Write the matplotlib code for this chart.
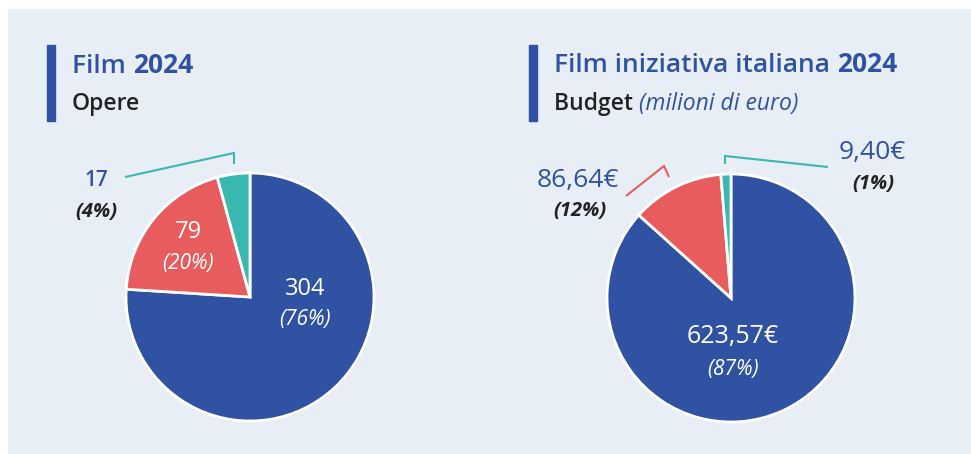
import matplotlib.pyplot as plt
from matplotlib.patches import Rectangle

W, H = 971, 454

# dati
opere = [304, 79, 17]
budget = [623.57, 86.64, 9.40]
colori = ['#2f53a2', '#e85c5e', '#38b8af']

titolo_sx = ('Film ', '2024')
sotto_sx = ('Opere', '')
titolo_dx = ('Film iniziativa italiana ', '2024')
sotto_dx = ('Budget ', '(milioni di euro)')

BLU = '#2f53a2'
NERO = '#222222'
SFONDO = '#e8eef6'

plt.rcParams['font.family'] = ['Open Sans', 'DejaVu Sans']


def py(y):
    # da pixel (dall'alto) a coordinate dati (dal basso)
    return H - y


def perc(vals):
    tot = sum(vals)
    return [round(v / tot * 100) for v in vals]


def euro(v):
    return f"{v:.2f}".replace('.', ',') + '€'


def testo_doppio(ax, x, y, a, b, col_a, col_b, size, weight_a, weight_b, style_b='normal'):
    t = ax.text(x, py(y), a, color=col_a, fontsize=size, fontweight=weight_a,
                va='baseline', ha='left')
    if b:
        fig = ax.figure
        fig.canvas.draw()
        bb = t.get_window_extent()
        x2 = ax.transData.inverted().transform((bb.x1, 0))[0]
        ax.text(x2, py(y), b, color=col_b, fontsize=size, fontweight=weight_b,
                fontstyle=style_b, va='baseline', ha='left')


def etichetta(ax, x, y, val, pct, dentro, size=16, gap=31, xp=None):
    xp = x if xp is None else xp
    if dentro:
        ax.text(x, py(y), val, color='white', fontsize=size, ha='center', va='center')
        ax.text(xp, py(y + gap), f'({pct}%)', color='white', fontsize=15,
                fontstyle='italic', ha='center', va='center')
    else:
        ax.text(x, py(y), val, color=BLU, fontsize=size, ha='center', va='center',
                fontweight='semibold' if size < 16 else 'normal')
        ax.text(xp, py(y + gap), f'({pct}%)', color=NERO, fontsize=14.5,
                fontstyle='italic', fontweight='bold', ha='center', va='center')


def linea(ax, pts, col):
    ax.plot([p[0] for p in pts], [py(p[1]) for p in pts], color=col, lw=1.5,
            solid_joinstyle='miter', solid_capstyle='butt')


fig = plt.figure(figsize=(W / 100, H / 100), dpi=100)
ax = fig.add_axes([0, 0, 1, 1])
ax.set_xlim(0, W)
ax.set_ylim(0, H)
ax.set_aspect('equal')
ax.axis('off')

ax.add_patch(Rectangle((8, 0), W - 8, H - 9, color=SFONDO, zorder=0))

# barre dei titoli
ax.add_patch(Rectangle((47, py(121)), 8, 76, color=BLU))
ax.add_patch(Rectangle((529, py(121)), 8, 76, color=BLU))

testo_doppio(ax, 72, 73, titolo_sx[0], titolo_sx[1], BLU, BLU, 19, 'semibold', 'bold')
testo_doppio(ax, 72, 110, sotto_sx[0], sotto_sx[1], NERO, BLU, 16.5, 'semibold', 'normal')
testo_doppio(ax, 554, 72, titolo_dx[0], titolo_dx[1], BLU, BLU, 19, 'semibold', 'bold')
testo_doppio(ax, 554, 110, sotto_dx[0], sotto_dx[1], NERO, BLU, 16.5, 'semibold', 'normal', 'italic')

wp = dict(edgecolor='white', linewidth=2)
ax.pie(opere, colors=colori, startangle=90, counterclock=False,
       center=(250, py(297)), radius=124, wedgeprops=wp, frame=True)
ax.pie(budget, colors=colori, startangle=90, counterclock=False,
       center=(731, py(298)), radius=124, wedgeprops=wp, frame=True)
ax.set_xlim(0, W)
ax.set_ylim(0, H)
ax.axis('off')

p1 = perc(opere)
etichetta(ax, 305, 289, str(opere[0]), p1[0], True, size=17)
etichetta(ax, 188, 232, str(opere[1]), p1[1], True, size=17)
etichetta(ax, 96, 181, str(opere[2]), p1[2], False, size=15)
linea(ax, [(125, 177), (234, 153), (234, 164)], colori[2])

p2 = perc(budget)
etichetta(ax, 733, 337, euro(budget[0]), p2[0], True, size=18, gap=33)
etichetta(ax, 578, 180, euro(budget[1]), p2[1], False, size=19, xp=580)
etichetta(ax, 872, 153, euro(budget[2]), p2[2], False, size=19, xp=873)
linea(ax, [(626, 196), (664, 166), (669, 177)], colori[1])
linea(ax, [(725, 164), (725, 156), (828, 167)], colori[2])

fig.savefig('out.png', dpi=100)
